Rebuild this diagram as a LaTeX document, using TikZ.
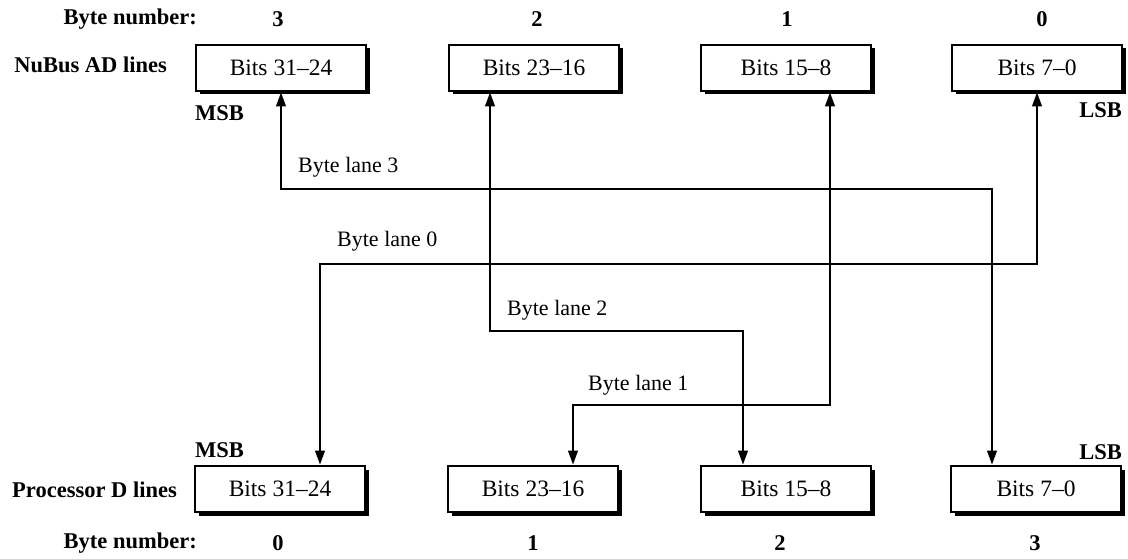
\documentclass[tikz,border=0pt]{standalone}
\usepackage{fontspec}
\setmainfont{Liberation Serif}
\usetikzlibrary{arrows.meta,shadows}

\begin{document}
\begin{tikzpicture}[x=1pt,y=-1pt,
  bitbox/.style={draw=black,line width=2.6pt,fill=white,minimum width=170pt,
    minimum height=46pt,inner sep=0pt,font=\fontsize{23.5}{25}\selectfont,
    drop shadow={shadow xshift=3.5pt,shadow yshift=-3.5pt,fill=black,opacity=1}},
  head/.style={font=\fontsize{22.5}{24}\selectfont\bfseries,inner sep=0pt},
  lanelbl/.style={font=\fontsize{22}{24}\selectfont,inner sep=0pt,anchor=base west},
  lane/.style={line width=2.2pt,
    {Triangle[length=14pt,width=9.5pt]}-{Triangle[length=14pt,width=9.5pt]}}]
\useasboundingbox (0,0) rectangle (1128,559);

% top row: NuBus AD lines
\node[head,anchor=east] (tbn) at (197,19) {Byte number:};
\node[head] (td3) at (278,19) {3};
\node[head] (td2) at (537,19) {2};
\node[head] (td1) at (787,19) {1};
\node[head] (td0) at (1042,19) {0};
\node[head,anchor=east] (tnl) at (167,65) {NuBus AD lines};
\node[bitbox] (t1) at (281,68) {Bits 31--24};
\node[bitbox] (t2) at (534,68) {Bits 23--16};
\node[bitbox] (t3) at (786,68) {Bits 15--8};
\node[bitbox] (t4) at (1037,68) {Bits 7--0};
\node[head,anchor=west] (tmsb) at (195,113) {MSB};
\node[head,anchor=east] (tlsb) at (1122,110) {LSB};

% bottom row: Processor D lines
\node[bitbox] (b1) at (280,489) {Bits 31--24};
\node[bitbox] (b2) at (533,489) {Bits 23--16};
\node[bitbox] (b3) at (786,489) {Bits 15--8};
\node[bitbox] (b4) at (1036,489) {Bits 7--0};
\node[head,anchor=west] (bmsb) at (195,450) {MSB};
\node[head,anchor=east] (blsb) at (1122,452) {LSB};
\node[head,anchor=east] (bpl) at (177,490) {Processor D lines};
\node[head,anchor=east] (bbn) at (197,543) {Byte number:};
\node[head] (bd0) at (278,543) {0};
\node[head] (bd1) at (533,543) {1};
\node[head] (bd2) at (780,543) {2};
\node[head] (bd3) at (1035,543) {3};

% byte lane routing
\coordinate (k3) at (992,189);
\coordinate (k0) at (320,264);
\coordinate (j2) at (490,331);
\coordinate (k2) at (743,331);
\coordinate (j1) at (830,405);
\coordinate (k1) at (573,405);

\draw[lane] (t1.south) |- (k3) -- (k3 |- b4.north);
\draw[lane] (t4.south) |- (k0) -- (k0 |- b1.north);
\draw[lane] (j2 |- t2.south) -- (j2) -- (k2) -- (k2 |- b3.north);
\draw[lane] (j1 |- t3.south) -- (j1) -- (k1) -- (k1 |- b2.north);

\node[lanelbl] (l3) at (298,173) {Byte lane 3};
\node[lanelbl] (l0) at (337,246) {Byte lane 0};
\node[lanelbl] (l2) at (507,315) {Byte lane 2};
\node[lanelbl] (l1) at (588,390) {Byte lane 1};
\end{tikzpicture}
\end{document}
